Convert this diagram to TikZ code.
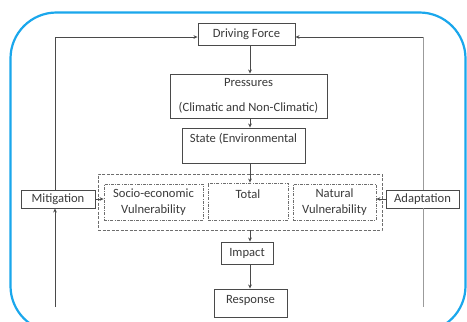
\documentclass[tikz,border=0pt]{standalone}
\usepackage{fontspec}
\setmainfont{Carlito}
\usetikzlibrary{arrows.meta}
\definecolor{frameblue}{HTML}{1AA7EC}
\definecolor{ln}{HTML}{4A4A4A}
\definecolor{tx}{HTML}{3A3A3A}
\tikzset{
  box/.style={draw=ln, line width=0.9pt, inner sep=0pt, text=tx, font=\fontsize{12.6}{14}\selectfont, align=center},
  outerdash/.style={draw=ln!80, line width=0.8pt, dash pattern=on 3pt off 1.5pt},
  innerdash/.style={draw=ln!80, line width=0.8pt, dash pattern=on 3pt off 1.3pt on 0.8pt off 1.3pt, inner sep=0pt, text=tx, font=\fontsize{12.6}{16}\selectfont, align=center},
  conn/.style={draw=ln, line width=0.9pt},
  arr/.style={conn, -{Stealth[length=4pt,width=3.6pt]}},
  lbl/.style={text=tx, font=\fontsize{12.6}{14}\selectfont, inner sep=0pt}
}
\begin{document}
\begin{tikzpicture}[x=1pt,y=-1pt]
\useasboundingbox (0,0) rectangle (467,322);
\fill[white] (0,0) rectangle (467,322);
\begin{scope}
\clip (0,0) rectangle (467,322);
\draw[frameblue, line width=2.2pt, rounded corners=46pt] (10.5,12.5) rectangle (465.5,332);
\end{scope}
% spine and corner points
\coordinate (spine) at (250,0);
\coordinate (tl) at (55,37);
\coordinate (tr) at (423,37);
\coordinate (bl) at (55,307);
\coordinate (br) at (423,307);
% nodes
\node[box, minimum width=97pt, minimum height=22pt] (df) at (246.5,34) {Driving Force};
\node[box, minimum width=157pt, minimum height=44pt, font=\fontsize{12.6}{25}\selectfont] (pr) at (248.5,96) {Pressures\\(Climatic and Non-Climatic)};
\node[box, minimum width=123pt, minimum height=35pt] (st) at (243.5,145.5) {};
\node[lbl] (stl) at (243.5,139) {State (Environmental};
\node[outerdash, minimum width=284pt, minimum height=56pt, inner sep=0pt] (vul) at (240,202) {};
\node[innerdash, minimum width=99pt, minimum height=36pt] (soc) at (153.5,202) {Socio-economic\\Vulnerability};
\node[innerdash, minimum width=80pt, minimum height=37pt] (tot) at (248,201.5) {};
\node[lbl] (totl) at (248,194) {Total};
\node[innerdash, minimum width=83pt, minimum height=36pt] (nat) at (334.5,202) {Natural\\Vulnerability};
\node[box, minimum width=74pt, minimum height=18pt] (mit) at (58,199) {Mitigation};
\node[box, minimum width=73pt, minimum height=18pt] (ada) at (422.5,199) {Adaptation};
\node[box, minimum width=52pt, minimum height=22pt] (imp) at (247,253) {Impact};
\node[box, minimum width=73pt, minimum height=28pt] (res) at (250.5,303) {};
\node[lbl] (resl) at (250.5,300) {Response};
% connectors
\draw[arr] (df.south -| spine) -- (pr.north -| spine);
\draw[arr] (pr.south -| spine) -- (st.north -| spine);
\draw[arr] (st.south -| spine) -- (tot.north -| spine);
\draw[arr] (vul.south -| spine) -- (imp.north -| spine);
\draw[arr] (imp.south -| spine) -- (res.north -| spine);
\draw[arr] (tl) -- (tl -| df.west);
\draw[arr] (tr) -- (tr -| df.east);
\draw[conn] (tl) -- (tl |- mit.north);
\draw[arr] (bl) -- (bl |- mit.south);
\draw[conn, draw=ln!55] (tr) -- (tr |- ada.north);
\draw[conn, draw=ln!55] (br |- ada.south) -- (br);
\draw[arr] (mit.east) -- (mit.east -| soc.west);
\draw[arr] (ada.west) -- (ada.west -| nat.east);
\end{tikzpicture}
\end{document}
